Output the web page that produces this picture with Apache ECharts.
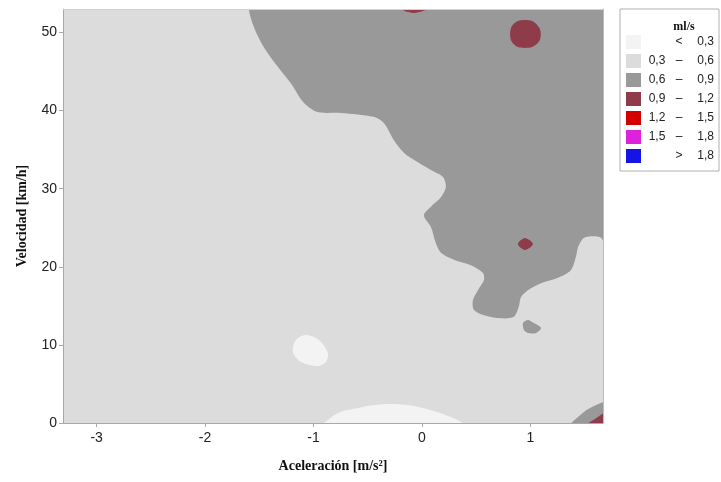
<!DOCTYPE html>
<html><head><meta charset="utf-8">
<script src="https://cdn.jsdelivr.net/npm/echarts@6/dist/echarts.min.js"></script>
<style>html,body{margin:0;padding:0;background:#fff}#c{width:721px;height:482px}</style>
</head><body><div id="c"></div>
<script>
// axis ranges and ticks
const xMin = -3.31, xMax = 1.67, yMin = 0, yMax = 53;
const xTicks = [-3, -2, -1, 0, 1];
const yTicks = [0, 10, 20, 30, 40, 50];

// contour levels (ml/s)
const levelLow  = ['', '0,3', '0,6', '0,9', '1,2', '1,5', ''];
const levelSep  = ['<', '–', '–', '–', '–', '–', '>'];
const levelHigh = ['0,3', '0,6', '0,9', '1,2', '1,5', '1,8', '1,8'];
const levelColors = ['#f3f3f3', '#dcdcdc', '#999999', '#8e3c4a', '#d40000', '#dd22dd', '#1414e6'];

// contour regions, points are [aceleración, velocidad]
const zone03_06 = [
  [[-3.31, 0], [1.67, 0], [1.67, 53], [-3.31, 53]]
];
const zoneLt03 = [
  [[-1.190, 9.09], [-1.163, 10.63], [-1.070, 11.27], [-0.950, 10.63], [-0.867, 8.96], [-0.885, 7.81], [-0.959, 7.30], [-1.116, 7.81]],
  [[-1.0, -1], [-0.904, 0], [-0.775, 1.28], [-0.591, 1.92], [-0.443, 2.30], [-0.259, 2.43], [-0.074, 2.18], [0.110, 1.54], [0.267, 0.77], [0.378, 0], [0.5, -1]]
];
const zone06_09 = [
  [[-1.60, 58], [-1.596, 53], [-1.55, 50.7], [-1.458, 48.1], [-1.329, 45.6], [-1.209, 43.5], [-1.089, 41.0], [-0.96, 39.8],
   [-0.747, 39.7], [-0.443, 39.2], [-0.351, 38.4], [-0.258, 36.2], [-0.166, 34.6], [-0.074, 33.7], [0.083, 32.4],
   [0.194, 31.5], [0.221, 30.2], [0.175, 28.9], [0.083, 27.7], [0.018, 26.6], [0.083, 25.1], [0.129, 23.0],
   [0.175, 21.8], [0.295, 20.9], [0.452, 20.2], [0.563, 19.2], [0.572, 18.3], [0.516, 17.0], [0.470, 15.7],
   [0.479, 14.5], [0.572, 13.8], [0.728, 13.4], [0.848, 13.6], [0.894, 14.9], [0.913, 16.1], [0.978, 17.0],
   [1.098, 17.9], [1.255, 18.6], [1.375, 19.6], [1.421, 21.3], [1.440, 22.5], [1.495, 23.7], [1.587, 23.9],
   [1.652, 23.7], [1.70, 22.8], [2.2, 22], [2.2, 58]],
  [[0.932, 12.80], [0.978, 13.19], [1.033, 12.80], [1.098, 12.16], [1.052, 11.52], [0.978, 11.52], [0.941, 11.91]],
  [[1.35, -0.8], [1.494, 1.41], [1.587, 2.18], [1.70, 2.75], [2.2, 3.2], [2.2, -1]]
];
const zone09_12 = [
  [[0.885, 51.47], [1.015, 51.47], [1.088, 50.45], [1.088, 49.04], [1.015, 48.14], [0.885, 48.14], [0.821, 49.04], [0.821, 50.58]],
  [[0.885, 22.92], [0.950, 23.69], [1.024, 22.92], [0.950, 22.15]],
  [[-0.22, 54], [-0.194, 53.1], [-0.157, 52.75], [-0.074, 52.5], [0.009, 52.75], [0.055, 53.1], [0.08, 54]],
  [[1.48, -0.8], [1.623, 0.77], [1.70, 1.35], [2.2, 1.6], [2.2, -1]]
];
const zone12_15 = [];
const zone15_18 = [];
const zoneGt18 = [];

const levelNames = levelLow.map((l, i) => (l ? l + ' ' : '') + levelSep[i] + ' ' + levelHigh[i]);
const zonesByLevel = [zoneLt03, zone03_06, zone06_09, zone09_12, zone12_15, zone15_18, zoneGt18];
const drawOrder = [1, 0, 2, 3, 4, 5, 6];

function makeSeries(i) {
  const polys = zonesByLevel[i];
  const color = levelColors[i];
  const smooth = i === 1 ? 0 : 0.3;
  return {
    type: 'custom', name: levelNames[i], clip: true, silent: true,
    xAxisIndex: 0, yAxisIndex: 0,
    itemStyle: { color: color },
    encode: { x: 0, y: 1 },
    data: polys.map(p => p[0]),
    renderItem: function (params, api) {
      const poly = polys[params.dataIndex];
      return {
        type: 'polygon',
        shape: { points: poly.map(pt => api.coord(pt)), smooth: smooth },
        style: { fill: color, stroke: null }
      };
    }
  };
}

const axisGrey = '#a8a8a8';
const labelFont = 'Liberation Sans';
const chart = echarts.init(document.getElementById('c'), null, { renderer: 'canvas' });
chart.setOption({
  animation: false,
  backgroundColor: '#ffffff',
  grid: { left: 63, right: 118, top: 9, bottom: 59, show: false },
  xAxis: [{
    type: 'value', min: xMin, max: xMax, position: 'bottom', z: 10,
    name: 'Aceleración [m/s²]', nameLocation: 'middle', nameGap: 36,
    nameTextStyle: { fontFamily: 'Liberation Serif', fontWeight: 'bold', fontSize: 14, color: '#111' },
    axisLine: { show: true, onZero: false, lineStyle: { color: axisGrey, width: 1 } },
    axisTick: { show: true, customValues: xTicks, length: 4, lineStyle: { color: axisGrey } },
    axisLabel: { customValues: xTicks, margin: 8, fontSize: 14, fontFamily: labelFont, color: '#222' },
    splitLine: { show: false }
  }, {
    type: 'value', min: xMin, max: xMax, position: 'top', z: 10,
    axisLine: { show: true, onZero: false, lineStyle: { color: '#d2d2d2' } },
    axisTick: { show: false }, axisLabel: { show: false }, splitLine: { show: false }
  }],
  yAxis: [{
    type: 'value', min: yMin, max: yMax, position: 'left', z: 10,
    name: 'Velocidad [km/h]', nameLocation: 'middle', nameGap: 34,
    nameTextStyle: { fontFamily: 'Liberation Serif', fontWeight: 'bold', fontSize: 14, color: '#111' },
    axisLine: { show: true, onZero: false, lineStyle: { color: axisGrey, width: 1 } },
    axisTick: { show: true, customValues: yTicks, length: 4, lineStyle: { color: axisGrey } },
    axisLabel: { customValues: yTicks, margin: 6, fontSize: 14, fontFamily: labelFont, color: '#222' },
    splitLine: { show: false }
  }, {
    type: 'value', min: yMin, max: yMax, position: 'right', z: 10,
    axisLine: { show: true, onZero: false, lineStyle: { color: '#bcbcbc' } },
    axisTick: { show: false }, axisLabel: { show: false }, splitLine: { show: false }
  }],
  legend: {
    orient: 'vertical', left: 620, top: 9, padding: [26, 5, 8, 6],
    itemWidth: 15, itemHeight: 14, itemGap: 5,
    borderColor: '#b0b0b0', borderWidth: 1, selectedMode: false,
    data: levelNames.map((n, i) => ({ name: n, icon: 'rect', itemStyle: { color: levelColors[i] } })),
    formatter: function (name) {
      const i = levelNames.indexOf(name);
      return '{a|' + levelLow[i] + '}{b|' + levelSep[i] + '}{c|' + levelHigh[i] + '}';
    },
    textStyle: {
      fontSize: 12, color: '#222', fontFamily: labelFont,
      rich: {
        a: { width: 22, align: 'right', fontSize: 12, fontFamily: labelFont, color: '#222' },
        b: { width: 22, align: 'center', fontSize: 12, fontFamily: labelFont, color: '#222' },
        c: { width: 24, align: 'right', fontSize: 12, fontFamily: labelFont, color: '#222' }
      }
    }
  },
  graphic: [{
    type: 'text', x: 684, y: 27, z: 100,
    style: { text: 'ml/s', align: 'center', verticalAlign: 'middle', font: 'bold 12px "Liberation Serif"', fill: '#111' }
  }],
  series: drawOrder.map(makeSeries)
});
</script>
</body></html>
